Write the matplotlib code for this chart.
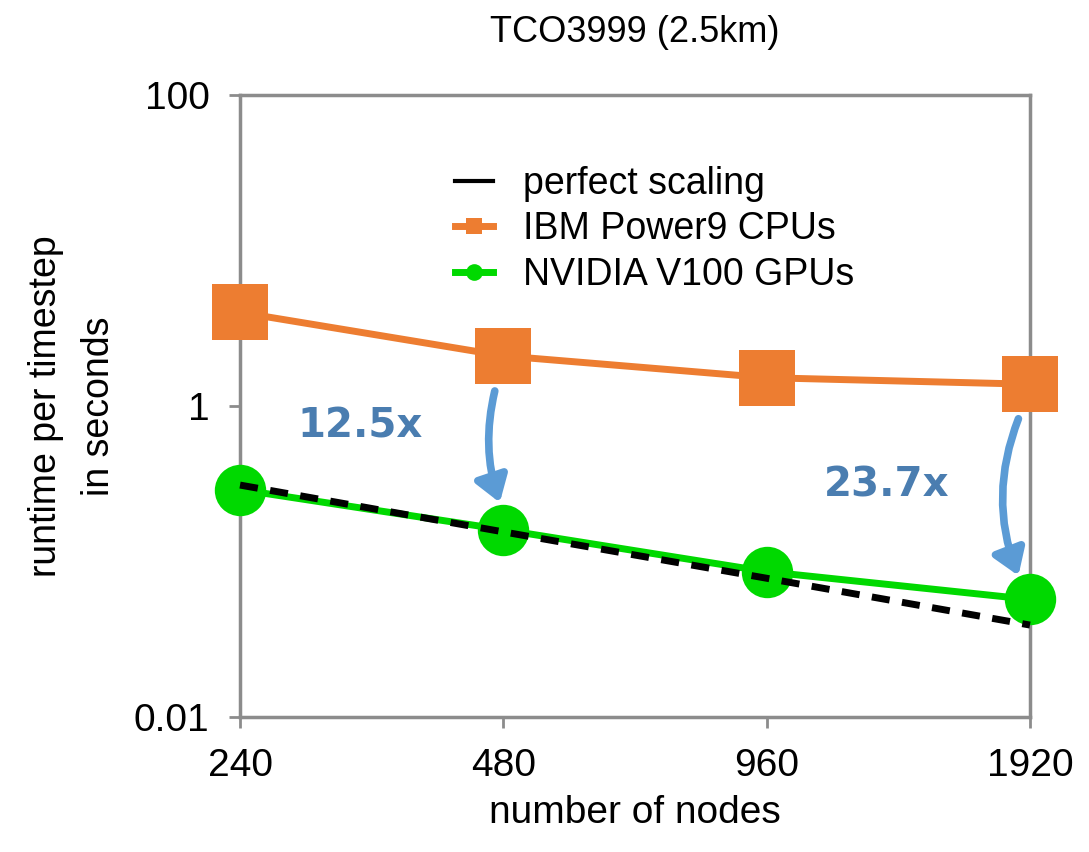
import matplotlib.pyplot as plt
from matplotlib.lines import Line2D

plt.rcParams['font.family'] = ['Liberation Sans', 'DejaVu Sans']

# Data
nodes = ['240', '480', '960', '1920']
cpu_runtime = [4.0, 2.1, 1.52, 1.38]
gpu_runtime = [0.29, 0.16, 0.086, 0.057]
perfect_scaling = [0.31, 0.155, 0.078, 0.039]
speedup_labels = ['12.5x', '23.7x']

x = list(range(len(nodes)))
grey = '#8c8c8c'
orange = '#ED7D31'
green = '#00D900'
blue_arrow = '#5B9BD5'
blue_text = '#4A7DB0'

fig = plt.figure(figsize=(10.89, 8.52), dpi=100)
ax = fig.add_axes([0.2204, 0.1585, 0.7254, 0.730])

ax.plot(x, cpu_runtime, color=orange, linewidth=5, marker='s',
        markersize=40, markeredgewidth=0, clip_on=False, zorder=3)
ax.plot(x, gpu_runtime, color=green, linewidth=5, marker='o',
        markersize=37, markeredgewidth=0, clip_on=False, zorder=3)
ax.plot(x, perfect_scaling, color='black', linewidth=5, linestyle=(0, (2.6, 1.8)),
        clip_on=False, zorder=4)

ax.set_yscale('log')
ax.set_ylim(0.01, 100)
ax.set_xlim(0, 3)
ax.set_yticks([0.01, 1, 100])
ax.set_yticklabels(['0.01', '1', '100'])
ax.minorticks_off()
ax.set_xticks(x)
ax.set_xticklabels(nodes)
ax.tick_params(axis='both', direction='out', length=8, width=2, color=grey,
               labelsize=28, pad=14)

for s in ax.spines.values():
    s.set_color(grey)
    s.set_linewidth(2.5)

ax.set_xlabel('number of nodes', fontsize=28, labelpad=8)
ax.set_ylabel('runtime per timestep\nin seconds', fontsize=27, labelpad=12,
              linespacing=1.6)
ax.set_title('TCO3999 (2.5km)', fontsize=26, pad=38)

# curved arrows showing speedup
arrow_style = '-|>,head_length=1.5,head_width=1.0'
ax.annotate('', xy=(0.99, 0.23), xytext=(0.97, 1.3),
            arrowprops=dict(arrowstyle=arrow_style, color=blue_arrow, lw=5.5,
                            connectionstyle='arc3,rad=0.15'), zorder=5)
ax.annotate('', xy=(2.96, 0.078), xytext=(2.96, 0.86),
            arrowprops=dict(arrowstyle=arrow_style, color=blue_arrow, lw=5.5,
                            connectionstyle='arc3,rad=0.2'), zorder=5)
ax.text(0.456, 0.74, speedup_labels[0], fontsize=29, fontweight='bold',
        color=blue_text, family='DejaVu Sans', ha='center', va='center')
ax.text(2.457, 0.31, speedup_labels[1], fontsize=29, fontweight='bold',
        color=blue_text, family='DejaVu Sans', ha='center', va='center')

handles = [
    Line2D([], [], color='black', linewidth=3),
    Line2D([], [], color=orange, linewidth=5, marker='s', markersize=12,
           markeredgewidth=0),
    Line2D([], [], color=green, linewidth=5, marker='o', markersize=12,
           markeredgewidth=0),
]
labels = ['perfect scaling', 'IBM Power9 CPUs', 'NVIDIA V100 GPUs']
ax.legend(handles, labels, loc='upper left', bbox_to_anchor=(0.23, 0.94),
          frameon=False, fontsize=27, handlelength=1.0, handletextpad=0.8,
          labelspacing=0.25)

plt.savefig('out.png', dpi=100, facecolor='white')
